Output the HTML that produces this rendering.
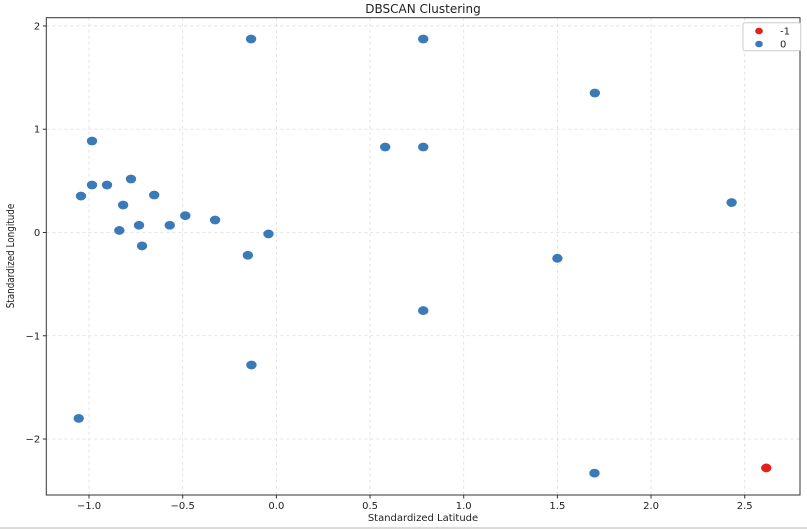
<!DOCTYPE html>
<html><head><meta charset="utf-8"><style>
html,body{margin:0;padding:0;background:#fff;width:807px;height:529px;overflow:hidden}
svg{display:block;font-family:"DejaVu Sans","Liberation Sans",sans-serif}
</style></head><body>
<svg id="chart" width="807" height="529">
<rect x="0" y="527" width="807" height="2" fill="#dcdad5"/>
<text x="423" y="13" text-anchor="middle" font-size="12" fill="#222">DBSCAN Clustering</text>
<g id="grid"></g>
<g id="marks"></g>
<rect x="46.3" y="17.7" width="753.7" height="477.3" fill="none" stroke="#333" stroke-width="1"/>
<g id="ticks"></g>
<text x="423" y="521" text-anchor="middle" font-size="10" fill="#222">Standardized Latitude</text>
<text transform="translate(14,256) rotate(-90) scale(0.8,1)" text-anchor="middle" font-size="11" fill="#222">Standardized Longitude</text>
<g>
<rect x="743" y="22.7" width="57.7" height="28" fill="#fff" stroke="#ccc" rx="2"/>
<ellipse cx="759" cy="31" rx="3.8" ry="3.3" fill="#e3211c"/>
<text x="780" y="34.5" font-size="10" fill="#222">-1</text>
<ellipse cx="759" cy="44" rx="3.8" ry="3.3" fill="#3a7ab8"/>
<text x="780" y="47.5" font-size="10" fill="#222">0</text>
</g>
</svg>
<script>
const xTicks=[-1.0,-0.5,0.0,0.5,1.0,1.5,2.0,2.5];
const xTickLabels=["\u22121.0","\u22120.5","0.0","0.5","1.0","1.5","2.0","2.5"];
const yTicks=[-2,-1,0,1,2];
const yTickLabels=["\u22122","\u22121","0","1","2"];
const cluster0X=[-0.135,0.784,1.70,-0.984,0.581,0.784,-0.776,-0.984,-0.904,-0.652,-1.043,-0.818,-0.486,-0.327,-0.042,-0.152,0.784,-0.133,-0.733,-0.569,-0.838,-0.717,1.50,2.43,-1.055,1.698];
const cluster0Y=[1.874,1.874,1.351,0.886,0.828,0.828,0.518,0.46,0.46,0.363,0.353,0.266,0.163,0.121,-0.014,-0.22,-0.756,-1.283,0.07,0.07,0.02,-0.13,-0.25,0.29,-1.80,-2.33];
const noiseX=[2.615];
const noiseY=[-2.28];
const X0=46.3,X1=800,Y0=17.7,Y1=495;
const xMin=-1.228,xMax=2.795,yMin=-2.542,yMax=2.08;
function sx(v){return X0+(v-xMin)/(xMax-xMin)*(X1-X0);}
function sy(v){return Y1-(v-yMin)/(yMax-yMin)*(Y1-Y0);}
const NS='http://www.w3.org/2000/svg';
const grid=document.getElementById('grid'),ticks=document.getElementById('ticks'),marks=document.getElementById('marks');
function mk(tag,attrs,parent){const e=document.createElementNS(NS,tag);for(const k in attrs)e.setAttribute(k,attrs[k]);parent.appendChild(e);return e;}
xTicks.forEach((v,i)=>{
 const x=sx(v);
 const g=mk('line',{x1:x,x2:x,y1:Y0,y2:Y1,stroke:'#ddd','stroke-dasharray':'3,3','stroke-width':0.8},grid);
 
 
 const t=mk('line',{x1:x,x2:x,y1:Y1,y2:Y1+3.5,stroke:'#333'},ticks);
 
 
 const l=mk('text',{x:x,y:Y1+14,'text-anchor':'middle','font-size':10,fill:'#222'},ticks);
 l.textContent=xTickLabels[i];
 
 
});
yTicks.forEach((v,i)=>{
 const y=sy(v);
 const g=mk('line',{x1:X0,x2:X1,y1:y,y2:y,stroke:'#ddd','stroke-dasharray':'3,3','stroke-width':0.8},grid);
 
 
 const t=mk('line',{x1:X0-3.5,x2:X0,y1:y,y2:y,stroke:'#333'},ticks);
 
 
 const l=mk('text',{x:X0-6,y:y+3.5,'text-anchor':'end','font-size':10,fill:'#222'},ticks);
 l.textContent=yTickLabels[i];
 
 
});
cluster0X.forEach((v,i)=>{
 const p=mk('ellipse',{cx:sx(v),cy:sy(cluster0Y[i]),rx:5.2,ry:4.4,fill:'#3a7ab8'},marks);
 
 
});
noiseX.forEach((v,i)=>{
 const p=mk('ellipse',{cx:sx(v),cy:sy(noiseY[i]),rx:5.2,ry:4.4,fill:'#e3211c'},marks);
 
 
});
</script>
</body></html>
